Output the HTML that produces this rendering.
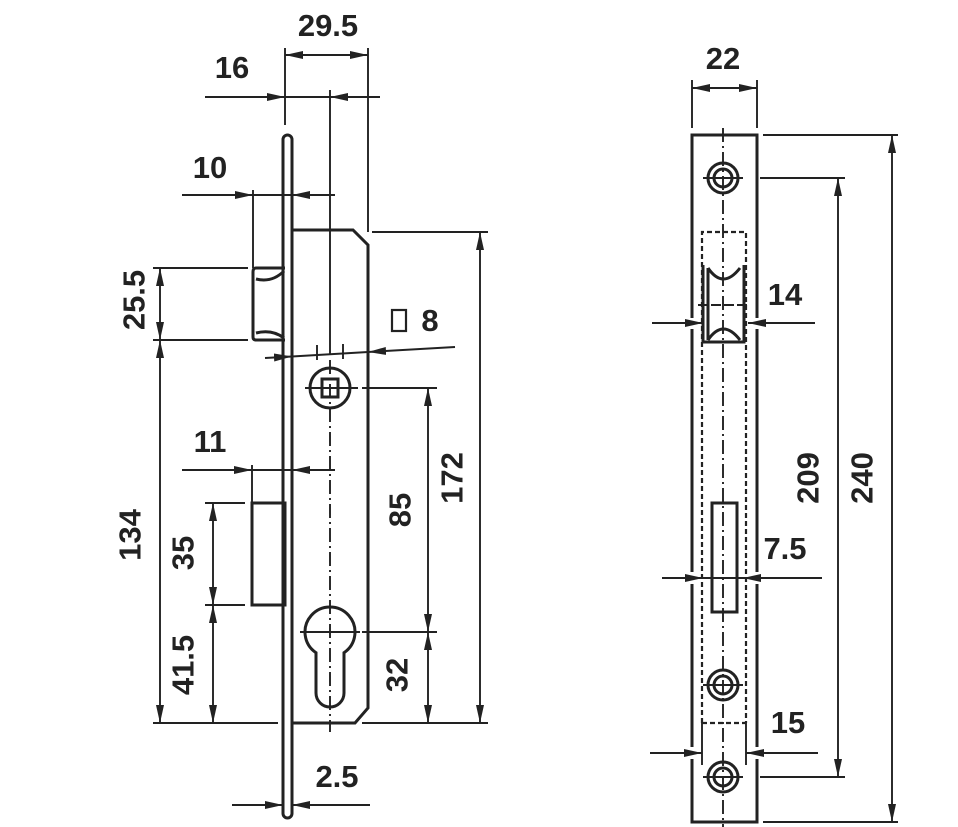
<!DOCTYPE html>
<html><head><meta charset="utf-8"><style>
html,body{margin:0;padding:0;background:#fff;width:958px;height:827px;overflow:hidden}
svg text{font-family:"Liberation Sans",Arial,sans-serif;font-size:31px;font-weight:bold;fill:#222}
</style></head><body>
<svg width="958" height="827" viewBox="0 0 958 827" xmlns="http://www.w3.org/2000/svg">
<defs>
<marker id="a" markerUnits="userSpaceOnUse" markerWidth="20" markerHeight="10" refX="18" refY="4" orient="auto">
<path d="M0,0 L18,4 L0,8 Z" fill="#222"/></marker>
</defs>
<g stroke="#222" fill="none" stroke-width="1.9">
<!-- LEFT main outlines -->
<g stroke-width="3">
<rect x="283" y="135" width="9" height="683" rx="4.5"/>
<path d="M292,230 L353,230 L368,245 L368,708 L355,723 L292,723"/>
<path d="M285,268 L256,268 Q253,268 253,272 L253,337 Q253,340 256,340 L285,340"/>
<path d="M256,279 Q272,283 284,271"/>
<path d="M256,333 Q272,329 284,338"/>
<rect x="252" y="503" width="33" height="102"/>
<circle cx="330" cy="388" r="20"/>
<rect x="322" y="379" width="16" height="18"/>
<path d="M316,652.7 A25,25 0 1 1 344,652.7 L344,693 A14,14 0 0 1 316,693 Z"/>
</g>
<!-- centerline -->
<line x1="330" y1="90" x2="330" y2="355"/>
<line x1="330" y1="360" x2="330" y2="732" stroke-dasharray="14,4,2,4"/>
<line x1="305" y1="388" x2="358" y2="388"/>
<line x1="300" y1="632" x2="360" y2="632"/>
<!-- 29.5 -->
<line x1="285" y1="48" x2="285" y2="125"/>
<line x1="368" y1="48" x2="368" y2="232"/>
<line x1="326" y1="55" x2="285" y2="55" marker-end="url(#a)"/>
<line x1="326" y1="55" x2="368" y2="55" marker-end="url(#a)"/>
<!-- 16 -->
<line x1="205" y1="97" x2="285" y2="97" marker-end="url(#a)"/>
<line x1="285" y1="97" x2="330" y2="97"/>
<line x1="380" y1="97" x2="330" y2="97" marker-end="url(#a)"/>
<!-- 10 -->
<line x1="182" y1="195" x2="253" y2="195" marker-end="url(#a)"/>
<line x1="253" y1="195" x2="292" y2="195"/>
<line x1="335" y1="195" x2="292" y2="195" marker-end="url(#a)"/>
<line x1="253" y1="190" x2="253" y2="268"/>
<!-- 25.5 / 134 -->
<line x1="153" y1="268" x2="248" y2="268"/>
<line x1="153" y1="340" x2="248" y2="340"/>
<line x1="160" y1="300" x2="160" y2="268" marker-end="url(#a)"/>
<line x1="160" y1="300" x2="160" y2="340" marker-end="url(#a)"/>
<line x1="160" y1="530" x2="160" y2="340" marker-end="url(#a)"/>
<line x1="160" y1="530" x2="160" y2="723" marker-end="url(#a)"/>
<line x1="153" y1="723" x2="278" y2="723"/>
<!-- 11 -->
<line x1="182" y1="470" x2="252" y2="470" marker-end="url(#a)"/>
<line x1="252" y1="470" x2="292" y2="470"/>
<line x1="335" y1="470" x2="292" y2="470" marker-end="url(#a)"/>
<line x1="252" y1="465" x2="252" y2="503"/>
<!-- 35 / 41.5 -->
<line x1="205" y1="503" x2="245" y2="503"/>
<line x1="205" y1="605" x2="245" y2="605"/>
<line x1="213" y1="553" x2="213" y2="503" marker-end="url(#a)"/>
<line x1="213" y1="553" x2="213" y2="605" marker-end="url(#a)"/>
<line x1="213" y1="665" x2="213" y2="605" marker-end="url(#a)"/>
<line x1="213" y1="665" x2="213" y2="723" marker-end="url(#a)"/>
<!-- 8 -->
<line x1="265" y1="358" x2="292" y2="356.5" marker-end="url(#a)"/>
<line x1="292" y1="356.5" x2="368" y2="352"/>
<line x1="455" y1="347" x2="368" y2="352" marker-end="url(#a)"/>
<line x1="317" y1="345" x2="317" y2="360"/>
<line x1="343" y1="344" x2="343" y2="359"/>
<rect x="392" y="310" width="14" height="21" stroke-width="2.2"/>
<!-- 85 / 32 -->
<line x1="362" y1="388" x2="437" y2="388"/>
<line x1="362" y1="632" x2="437" y2="632"/>
<line x1="428" y1="510" x2="428" y2="388" marker-end="url(#a)"/>
<line x1="428" y1="510" x2="428" y2="632" marker-end="url(#a)"/>
<line x1="428" y1="680" x2="428" y2="632" marker-end="url(#a)"/>
<line x1="428" y1="680" x2="428" y2="723" marker-end="url(#a)"/>
<line x1="362" y1="723" x2="488" y2="723"/>
<!-- 172 -->
<line x1="372" y1="232" x2="488" y2="232"/>
<line x1="480" y1="480" x2="480" y2="232" marker-end="url(#a)"/>
<line x1="480" y1="480" x2="480" y2="723" marker-end="url(#a)"/>
<!-- 2.5 -->
<line x1="232" y1="805" x2="283" y2="805" marker-end="url(#a)"/>
<line x1="370" y1="805" x2="292" y2="805" marker-end="url(#a)"/>

<!-- RIGHT -->
<g stroke-width="3">
<path d="M692,318 L692,135 L757,135 L757,318"/>
<path d="M692,329 L692,572 M757,329 L757,572 M692,584 L692,747 M757,584 L757,747"/>
<path d="M692,759 L692,822 L757,822 L757,759"/>
<path d="M703,265 L703,342 L744,342 L744,265 M708,268 L708,340 M708,268 Q723,290 740,268 M708,340 Q723,318 740,340"/>
<rect x="712" y="503" width="25" height="109"/>
<circle cx="723" cy="178" r="15"/><circle cx="723" cy="178" r="9"/>
<circle cx="723" cy="685" r="15"/><circle cx="723" cy="685" r="9"/>
<circle cx="723" cy="777" r="15"/><circle cx="723" cy="777" r="9"/>
</g>
<g stroke-width="2.2" stroke-dasharray="5,3">
<path d="M702,723 L702,232 L746,232 L746,723 M702,723 L746,723"/>
</g>
<line x1="723" y1="128" x2="723" y2="827" stroke-dasharray="14,4,2,4"/>
<line x1="703" y1="178" x2="743" y2="178"/>
<line x1="703" y1="685" x2="743" y2="685"/>
<line x1="703" y1="777" x2="743" y2="777"/>
<line x1="702" y1="723" x2="702" y2="765"/>
<line x1="746" y1="723" x2="746" y2="765"/>
<!-- 22 -->
<line x1="692" y1="80" x2="692" y2="128"/>
<line x1="757" y1="80" x2="757" y2="128"/>
<line x1="724" y1="88" x2="692" y2="88" marker-end="url(#a)"/>
<line x1="724" y1="88" x2="757" y2="88" marker-end="url(#a)"/>
<!-- 14 -->
<line x1="652" y1="323" x2="703" y2="323" marker-end="url(#a)"/>
<line x1="815" y1="323" x2="748" y2="323" marker-end="url(#a)"/>
<line x1="698" y1="305" x2="750" y2="305" stroke-dasharray="10,3"/>
<!-- 7.5 -->
<line x1="662" y1="578" x2="703" y2="578" marker-end="url(#a)"/>
<line x1="703" y1="578" x2="743" y2="578"/>
<line x1="822" y1="578" x2="743" y2="578" marker-end="url(#a)"/>
<!-- 15 -->
<line x1="650" y1="753" x2="702" y2="753" marker-end="url(#a)"/>
<line x1="818" y1="753" x2="746" y2="753" marker-end="url(#a)"/>
<!-- 209 -->
<line x1="760" y1="178" x2="845" y2="178"/>
<line x1="760" y1="777" x2="845" y2="777"/>
<line x1="838" y1="478" x2="838" y2="178" marker-end="url(#a)"/>
<line x1="838" y1="478" x2="838" y2="777" marker-end="url(#a)"/>
<!-- 240 -->
<line x1="763" y1="135" x2="898" y2="135"/>
<line x1="763" y1="822" x2="898" y2="822"/>
<line x1="892" y1="478" x2="892" y2="135" marker-end="url(#a)"/>
<line x1="892" y1="478" x2="892" y2="822" marker-end="url(#a)"/>
</g>
<g text-anchor="middle">
<text x="328" y="36">29.5</text>
<text x="232" y="78">16</text>
<text x="210" y="178">10</text>
<text x="210" y="452">11</text>
<text x="430" y="331">8</text>
<text x="337" y="787">2.5</text>
<text x="723" y="69">22</text>
<text x="785" y="305">14</text>
<text x="785" y="559">7.5</text>
<text x="788" y="733">15</text>
<g dominant-baseline="central">
<text transform="translate(134,300) rotate(-90)">25.5</text>
<text transform="translate(130,535) rotate(-90)">134</text>
<text transform="translate(183,553) rotate(-90)">35</text>
<text transform="translate(183,665) rotate(-90)">41.5</text>
<text transform="translate(400,510) rotate(-90)">85</text>
<text transform="translate(397,675) rotate(-90)">32</text>
<text transform="translate(452,478) rotate(-90)">172</text>
<text transform="translate(808,478) rotate(-90)">209</text>
<text transform="translate(862,478) rotate(-90)">240</text>
</g>
</g>
</svg>
</body></html>
